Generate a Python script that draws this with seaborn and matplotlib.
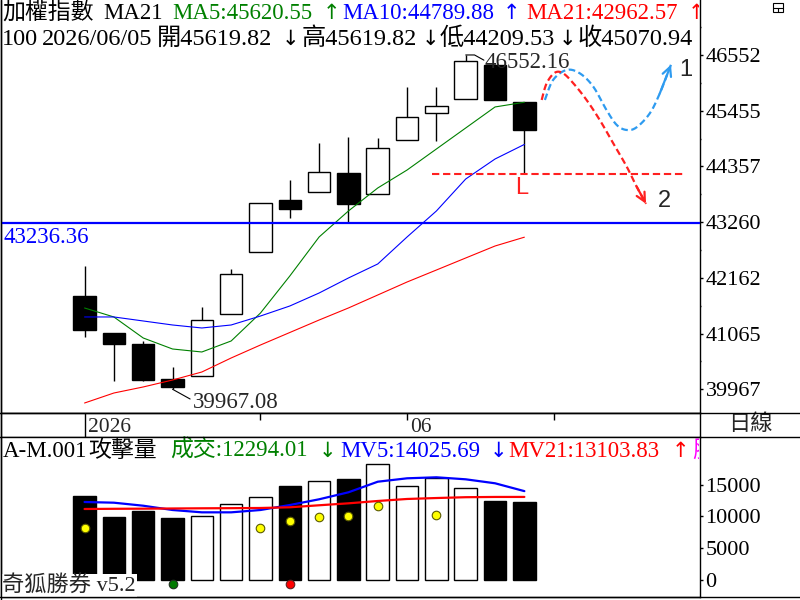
import numpy as np
import pandas as pd
import matplotlib
matplotlib.use("Agg")
import matplotlib.pyplot as plt
import seaborn as sns
from matplotlib.lines import Line2D
from matplotlib.patches import Rectangle
from matplotlib.transforms import Bbox

# ---------------- data ----------------
day_idx = list(range(16))
opens  = [41804, 41075, 40853, 40163, 40234, 41444, 42665, 43695, 43847, 44222,
          43808, 44872, 45404, 45679, 46355, 45619.82]
highs  = [42395, 41075, 40918, 40400, 41582, 42336, 43631, 44090, 44818, 44937,
          44917, 45916, 45916, 46552.16, 46355, 45619.82]
lows   = [41003, 40136, 40136, 39967.08, 40234, 41444, 42665, 43347, 43847, 43236.36,
          43808, 44872, 44864, 45679, 45666, 44209.53]
closes = [41134, 40865, 40156, 40006, 41326, 42232, 43631, 43524, 44241, 43617,
          44714, 45325, 45541, 46440, 45666, 45070.94]
ma5  = [41568, 41391, 40977, 40760, 40701, 40918, 41469, 42198, 42967, 43479,
        43932, 44286, 44700, 45114, 45528, 45620.55]
ma10 = [41391, 41391, 41312, 41233, 41174, 41233, 41410, 41607, 41863, 42159,
        42435, 42967, 43479, 44109, 44503, 44789.88]
ma21 = [39696, 39893, 40012, 40149, 40307, 40583, 40839, 41085, 41331, 41568,
        41824, 42080, 42316, 42553, 42789, 42962.57]
volume = [13250, 9920, 10870, 9760, 10030, 11980, 13050, 14840, 15630, 15950,
          18280, 14840, 16060, 14470, 12460, 12294.01]
mv5  = [12300, 12190, 11710, 11030, 10660, 10660, 11030, 11820, 12730, 13840,
        15520, 16060, 16220, 15900, 15270, 14025.69]
mv21 = [11190, 11220, 11240, 11270, 11300, 11320, 11350, 11460, 11780, 12090,
        12460, 12780, 12930, 13060, 13100, 13103.83]
signal_idx = [0, 6, 7, 8, 9, 10, 12]
signal_val = [8170, 8170, 9280, 9920, 10080, 11710, 10280]
buy_idx, buy_val = [3], [-714]
sell_idx, sell_val = [7], [-714]
price_ticks = [39967, 41065, 42162, 43260, 44357, 45455, 46552]
vol_ticks = [0, 5000, 10000, 15000]
support_level = 43236.36
low_level = 44209.53
date_labels = ["2026", "06"]
date_label_idx = [0, 11]
minor_date_idx = [6, 16]

# scenario sketch paths (annotation, in index / price units)
path1 = [(15.70, 45666), (15.98, 46060), (16.44, 46257), (16.89, 46191), (17.35, 45928),
         (17.80, 45469), (18.15, 45173), (18.49, 45074), (18.83, 45128), (19.28, 45404),
         (19.62, 45797), (20.00, 46360)]
path2 = [(15.59, 45666), (15.76, 45994), (16.04, 46203), (16.32, 46191), (16.67, 45994),
         (17.12, 45666), (17.57, 45272), (18.03, 44813), (18.49, 44352), (18.83, 43958),
         (19.15, 43620)]

# ---------------- style ----------------
sns.set_theme(style="white")
plt.rcParams['font.family'] = ['Liberation Serif', 'Noto Sans CJK TC', 'DejaVu Sans']
plt.rcParams['axes.linewidth'] = 1.0

W, H = 800, 600
fig = plt.figure(figsize=(8, 6), dpi=100, facecolor='white')


def box(x0, y0, x1, y1):
    return [x0 / W, 1 - y1 / H, (x1 - x0) / W, (y1 - y0) / H]


ax = fig.add_axes(box(1, 0, 700, 412.5))
axd = fig.add_axes(box(1, 412.5, 700, 437))
axv = fig.add_axes(box(1, 437, 700, 597))
XL = (-2.85, 20.99)

df = pd.DataFrame(dict(i=day_idx, o=opens, h=highs, l=lows, c=closes,
                       ma5=ma5, ma10=ma10, ma21=ma21))
down = (df.c < df.o).values

# candles
ax.vlines(df.i, df.l, df.h, color='black', lw=1, zorder=2)
ax.bar(df.i, (df.c - df.o).abs(), bottom=df[['o', 'c']].min(axis=1), width=0.77,
       color=np.where(down, 'black', 'white'), edgecolor='black', linewidth=1, zorder=3)

# moving averages
sns.lineplot(data=df, x='i', y='ma5', ax=ax, color='#008000', lw=0.8, zorder=4)
sns.lineplot(data=df, x='i', y='ma10', ax=ax, color='#0000FF', lw=0.8, zorder=4)
sns.lineplot(data=df, x='i', y='ma21', ax=ax, color='#FF0000', lw=0.8, zorder=4)

# support line
ax.axhline(support_level, color='#0000FF', lw=1.6, zorder=5)
ax.text(XL[0] + 0.08, 42848, f"{support_level:.2f}", color='#0000FF', fontsize=16.5,
        ha='left', va='baseline', zorder=6)

# low-level dashed line + L
ax.plot([11.85, 20.47], [low_level, low_level], color='#FF2020', lw=1.5,
        dashes=(3.5, 1.8), zorder=5)
ax.text(14.92, 43932, "L", color='#FF2020', fontsize=17, family='Liberation Sans',
        ha='center', va='center', zorder=6)

# high / low labels with leaders
ax.plot([13, 13.3, 13.62], [46552.16, 46552.16, 46450], color='black', lw=0.8, zorder=6)
ax.text(13.65, 46296, f"{highs[13]:.2f}", fontsize=16.5, ha='left', va='baseline', zorder=6)
ax.plot([3, 3.6], [39967.08, 39775], color='black', lw=0.8, zorder=6)
ax.text(3.70, 39598, f"{lows[3]:.2f}", fontsize=16.5, ha='left', va='baseline', zorder=6)


# scenario dashed curves
def smooth(pts, n=12):
    p = np.array(pts, dtype=float)
    p = np.vstack([p[0], p, p[-1]])
    out = []
    for k in range(1, len(p) - 2):
        p0, p1, p2, p3 = p[k - 1], p[k], p[k + 1], p[k + 2]
        for t in np.linspace(0, 1, n, endpoint=False):
            t2, t3 = t * t, t * t * t
            out.append(0.5 * ((2 * p1) + (-p0 + p2) * t + (2 * p0 - 5 * p1 + 4 * p2 - p3) * t2
                              + (-p0 + 3 * p1 - 3 * p2 + p3) * t3))
    out.append(p[-2])
    return np.array(out)


for pts, col in ((path1, '#2E9BF0'), (path2, '#FF2020')):
    s = smooth(pts)
    ax.plot(s[:, 0], s[:, 1], color=col, lw=1.6, dashes=(3, 1.6), zorder=6)
    ax.annotate('', xy=pts[-1], xytext=pts[-2],
                arrowprops=dict(arrowstyle='->', color=col, lw=1.6, mutation_scale=16,
                                shrinkA=0, shrinkB=0), zorder=6)
ax.text(20.51, 46256, "1", fontsize=17, family='Liberation Sans', ha='center', va='center')
ax.text(19.79, 43676, "2", fontsize=17, family='Liberation Sans', ha='center', va='center')

ax.set_xlim(*XL)
ax.set_ylim(39509, 47635)
ax.set_xticks([])
ax.yaxis.tick_right()
ax.set_yticks(price_ticks)
ax.set_yticklabels([str(t) for t in price_ticks])
ax.set_yticks([(a + b) / 2 for a, b in zip(price_ticks[:-1], price_ticks[1:])]
              + [price_ticks[-1] + (price_ticks[-1] - price_ticks[-2]) / 2], minor=True)
ax.tick_params(axis='y', which='major', direction='out', length=2.5, width=1, pad=1.5,
               labelsize=16, colors='black', right=True, left=False)
ax.tick_params(axis='y', which='minor', direction='out', length=1, width=1, right=True, left=False)
ax.set_xlabel('')
ax.set_ylabel('')
ax.spines['top'].set_visible(False)

# ---------------- date strip ----------------
axd.set_xlim(*XL)
axd.set_ylim(0, 1)
axd.set_yticks([])
axd.set_xticks([date_label_idx[1]])
axd.set_xticks(minor_date_idx, minor=True)
axd.tick_params(axis='x', which='both', top=True, bottom=False, direction='in',
                labelbottom=False, length=5, width=1, color='black')
axd.axvline(date_label_idx[0], color='black', lw=1)
for lab, xi in zip(date_labels, date_label_idx):
    axd.text(xi + 0.12, 0.2, lab, fontsize=15.5, ha='left', va='baseline')
for s in axd.spines.values():
    s.set_color('black')

# ---------------- volume panel ----------------
dv = pd.DataFrame(dict(i=day_idx, vol=volume, mv5=mv5, mv21=mv21,
                       dir=np.where(down, 'down', 'up')))
sns.barplot(data=dv, x='i', y='vol', hue='dir', palette={'up': 'white', 'down': 'black'},
            native_scale=True, width=0.77, dodge=False, errorbar=None, edgecolor='black',
            linewidth=1, legend=False, ax=axv, zorder=2)
sns.lineplot(data=dv, x='i', y='mv5', ax=axv, color='#0000FF', lw=1.6, zorder=4)
sns.lineplot(data=dv, x='i', y='mv21', ax=axv, color='#FF0000', lw=1.6, zorder=4)
axv.scatter(signal_idx, signal_val, s=38, c='#FFFF00', edgecolors='#5a5a00', linewidths=0.8, zorder=5)
axv.scatter(buy_idx, buy_val, s=38, c='#007A00', edgecolors='#203020', linewidths=0.8, zorder=5)
axv.scatter(sell_idx, sell_val, s=38, c='#FF0000', edgecolors='#602020', linewidths=0.8, zorder=5)
axv.set_xlim(*XL)
axv.set_ylim(-2777, 22615)
axv.set_xticks([])
axv.yaxis.tick_right()
axv.set_yticks(vol_ticks)
axv.set_yticklabels([str(t) for t in vol_ticks])
axv.tick_params(axis='y', which='major', direction='out', length=2.5, width=1, pad=1.5,
                labelsize=16, colors='black', right=True, left=False)
axv.set_xlabel('')
axv.set_ylabel('')
axv.spines['top'].set_visible(False)

for a in (ax, axv):
    for s in a.spines.values():
        s.set_color('black')
        s.set_linewidth(1)

# ---------------- figure-level separators ----------------
for yy in (412.5, 437, 597):
    fig.add_artist(Line2D([0, 1], [1 - yy / H] * 2, color='black', lw=1,
                          transform=fig.transFigure, zorder=20))
fig.add_artist(Line2D([1 / W, 1 / W], [0, 1], color='black', lw=1,
                      transform=fig.transFigure, zorder=20))

clip = Bbox.from_extents(0, 0, 699, 600)


def ptext(x, y, s, color='black', size=16.5, **kw):
    t = fig.text(x / W, 1 - y / H, s, color=color, fontsize=size, ha='left',
                 va='baseline', **kw)
    t.set_clip_box(clip)
    t.set_clip_on(True)
    return t


def arrow(x, y, s, color='black', size=15):
    return ptext(x, y, s, color=color, size=size, family='DejaVu Sans')


# header line 1
ptext(2, 19, "加權指數")
ptext(103, 19, "MA21")
ptext(172, 19, "MA5:45620.55", color='#008000')
arrow(323, 19, "↑", color='#008000')
ptext(342, 19, "MA10:44789.88", color='#0000FF')
arrow(503, 19, "↑", color='#0000FF')
ptext(526, 19, "MA21:42962.57", color='#FF0000')
arrow(688, 19, "↑", color='#FF0000')
# header line 2
L2 = 17.5
ptext(2, 45, "100", size=L2)
ptext(42, 45, "2026/06/05", size=L2)
ptext(157, 45, "開45619.82", size=L2)
arrow(282, 45, "↓")
ptext(302, 45, "高45619.82", size=L2)
arrow(422, 45, "↓")
ptext(440, 45, "低44209.53", size=L2)
arrow(559, 45, "↓")
ptext(578, 45, "收45070.94", size=L2)
# volume header
ptext(3, 457, "A-M.001")
ptext(88, 457, "攻擊量")
ptext(170, 457, "成交:12294.01", color='#008000')
arrow(319, 457, "↓", color='#008000')
ptext(340, 457, "MV5:14025.69", color='#0000FF')
arrow(490, 457, "↓", color='#0000FF')
ptext(508, 457, "MV21:13103.83", color='#FF0000')
arrow(672, 457, "↑", color='#FF0000')
ptext(692, 457, "股", color='#FF00FF')

# right column caption
fig.text(750 / W, 1 - 425 / H, "日線", fontsize=16, ha='center', va='center')

# footer brand
fig.text(2 / W, 1 - 592 / H, "奇狐勝券 v5.2", fontsize=16, ha='left', va='baseline',
         bbox=dict(facecolor='white', edgecolor='none', pad=1.0), zorder=10)

# small window icon at top right
fig.add_artist(Rectangle((773 / W, 1 - 12 / H), 10 / W, 9 / H, fill=False, ec='black',
                         lw=0.8, transform=fig.transFigure))
fig.add_artist(Line2D([773 / W, 783 / W], [1 - 7.5 / H] * 2, color='black', lw=0.8,
                      transform=fig.transFigure))
fig.add_artist(Line2D([778 / W] * 2, [1 - 7.5 / H, 1 - 12 / H], color='black', lw=0.8,
                      transform=fig.transFigure))

fig.savefig("out.png", dpi=100, facecolor='white')
